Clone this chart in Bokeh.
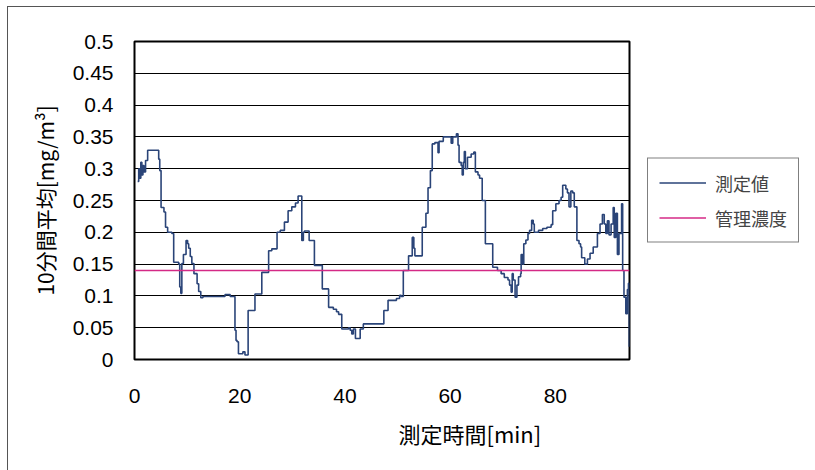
from bokeh.plotting import figure
from bokeh.models import (FixedTicker, CustomJSTickFormatter, Legend, LegendItem,
                          Title, Range1d, ColumnDataSource)
from bokeh.embed import file_html
from bokeh.resources import INLINE

# 10-minute moving average of the measured concentration (step change points)
times = [0.6, 0.8, 1.0, 1.2, 1.4, 1.6, 1.8, 2.1, 2.5, 4.6, 4.8, 5.05, 5.6, 5.9, 6.3,
         7.1, 7.45, 8.4, 8.6, 8.8, 9.0, 9.3, 9.8, 10.1, 10.3, 10.6, 10.9, 11.3, 11.9,
         12.2, 12.6, 13.0, 17.2, 18.2, 19.1, 19.3, 19.5, 19.76, 20.6, 21.0, 21.6, 22.9,
         24.2, 25.5, 26.1, 27.1, 27.7, 28.5, 29.2, 29.9, 30.6, 31.1, 31.8, 32.1, 32.3,
         33.2, 34.2, 35.7, 36.9, 37.8, 38.4, 38.8, 39.4, 40.7, 41.0, 41.3, 41.6, 42.0,
         42.9, 43.5, 47.4, 48.2, 49.8, 50.4, 50.7, 51.1, 52.1, 52.8, 53.1, 53.3, 54.7,
         55.4, 55.8, 56.25, 56.6, 57.1, 57.7, 57.9, 58.7, 60.2, 60.5, 61.2, 61.5, 61.7,
         62.1, 62.3, 62.5, 62.7, 62.9, 63.3, 64.0, 64.5, 64.8, 65.3, 65.6, 66.1, 66.7,
         68.1, 69.0, 69.7, 70.3, 71.0, 71.3, 71.6, 71.8, 72.0, 72.35, 72.7, 73.0, 73.4,
         73.5, 73.8, 74.0, 74.4, 74.8, 75.1, 75.5, 75.8, 76.0, 76.8, 77.6, 78.4, 79.2,
         79.5, 80.1, 80.7, 81.1, 81.4, 82.0, 82.3, 82.6, 82.95, 83.3, 83.6, 84.1, 84.5,
         84.8, 85.0, 85.6, 86.1, 86.6, 87.2, 88.0, 88.5, 88.95, 89.3, 89.6, 89.9, 90.2,
         90.6, 91.0, 91.2, 91.5, 91.8, 92.1, 92.6, 92.8, 93.05, 93.4, 93.7, 93.9, 94.05]
values = [0.28, 0.30, 0.285, 0.31, 0.29, 0.305, 0.295, 0.313, 0.329, 0.315, 0.297, 0.239,
          0.232, 0.208, 0.200, 0.198, 0.153, 0.150, 0.114, 0.104, 0.151, 0.165, 0.187,
          0.182, 0.175, 0.162, 0.151, 0.135, 0.119, 0.107, 0.097, 0.099, 0.102, 0.099,
          0.046, 0.030, 0.028, 0.009, 0.012, 0.007, 0.077, 0.103, 0.137, 0.171, 0.174,
          0.200, 0.203, 0.216, 0.234, 0.240, 0.246, 0.257, 0.187, 0.200, 0.202, 0.187,
          0.148, 0.111, 0.082, 0.079, 0.075, 0.071, 0.048, 0.050, 0.046, 0.040, 0.048,
          0.033, 0.048, 0.056, 0.077, 0.093, 0.096, 0.101, 0.099, 0.140, 0.163, 0.192,
          0.175, 0.163, 0.208, 0.230, 0.270, 0.297, 0.339, 0.341, 0.325, 0.343, 0.350,
          0.340, 0.350, 0.355, 0.337, 0.310, 0.305, 0.290, 0.310, 0.327, 0.300, 0.318,
          0.323, 0.326, 0.295, 0.290, 0.285, 0.250, 0.182, 0.145, 0.140, 0.135, 0.129,
          0.125, 0.117, 0.106, 0.135, 0.125, 0.098, 0.117, 0.130, 0.135, 0.165, 0.150,
          0.182, 0.188, 0.198, 0.203, 0.219, 0.213, 0.200, 0.203, 0.206, 0.208, 0.212,
          0.234, 0.245, 0.250, 0.255, 0.274, 0.268, 0.262, 0.240, 0.265, 0.262, 0.240,
          0.187, 0.182, 0.177, 0.160, 0.150, 0.158, 0.167, 0.177, 0.198, 0.213, 0.228,
          0.213, 0.198, 0.218, 0.196, 0.213, 0.239, 0.192, 0.230, 0.165, 0.198, 0.245,
          0.140, 0.098, 0.072, 0.110, 0.120, 0.020]

control_level = 0.14          # 管理濃度 [mg/m3]
x_start, x_end = 0.0, 94.1    # measurement span [min]
x_ticks = [0, 20, 40, 60, 80]
y_ticks = [0, 0.05, 0.1, 0.15, 0.2, 0.25, 0.3, 0.35, 0.4, 0.45, 0.5]

NAVY = "#2a4478"
PINK = "#d42a86"
JP_FONT = "Noto Sans CJK JP"
NUM_FONT = "Liberation Sans"

p = figure(frame_width=495, frame_height=318, output_backend="svg", toolbar_location=None,
           x_range=Range1d(x_start, x_end), y_range=Range1d(0, 0.5),
           min_border_left=126, min_border_right=0, min_border_top=34,
           min_border_bottom=111)
p.styles = {"margin-left": "7px", "margin-top": "6px",
            "border-left": "1px solid #555", "border-top": "1px solid #555"}

p.background_fill_color = "white"
p.border_fill_color = "white"
p.outline_line_color = "black"
p.outline_line_width = 2

src = ColumnDataSource(dict(t=times, v=values))
r_meas = p.step(x="t", y="v", source=src, mode="after", line_color=NAVY, line_width=1.6)
r_ctrl = p.line(x=[x_start, x_end], y=[control_level, control_level],
                line_color=PINK, line_width=1.6)

# axes
for ax in (p.xaxis[0], p.yaxis[0]):
    ax.axis_line_color = None
    ax.major_tick_line_color = None
    ax.minor_tick_line_color = None
    ax.major_tick_out = 0
    ax.major_tick_in = 0
    ax.major_label_text_font = NUM_FONT
    ax.major_label_text_font_size = "21px"
    ax.major_label_text_color = "black"

p.xaxis.ticker = FixedTicker(ticks=x_ticks)
p.xaxis.major_label_standoff = 29

p.yaxis.ticker = FixedTicker(ticks=y_ticks)
p.yaxis.formatter = CustomJSTickFormatter(code="return String(Math.round(tick * 100) / 100);")
p.yaxis.major_label_standoff = 21
p.yaxis.axis_label = "10分間平均[mg/m³]"
p.yaxis.axis_label_text_font = JP_FONT
p.yaxis.axis_label_text_font_size = "21px"
p.yaxis.axis_label_text_font_style = "normal"
p.yaxis.axis_label_text_color = "black"
p.yaxis.axis_label_standoff = 10

p.xgrid.visible = False
p.ygrid.grid_line_color = "black"
p.ygrid.grid_line_width = 1

# x-axis title, placed right of the frame centre
xt = Title(text="測定時間[min]", align="left", offset=264,
           text_font=JP_FONT, text_font_size="22px", text_font_style="normal",
           text_color="black", standoff=18)
p.add_layout(xt, "below")

legend = Legend(items=[LegendItem(label="測定値", renderers=[r_meas]),
                       LegendItem(label="管理濃度", renderers=[r_ctrl])],
                location="center_left", orientation="vertical",
                border_line_color="black", border_line_width=1,
                background_fill_color="white", background_fill_alpha=1.0,
                padding=11, spacing=9, margin=18,
                glyph_width=47, glyph_height=22, label_height=22, label_standoff=9,
                label_width=72,
                label_text_font=JP_FONT, label_text_font_size="18px")
p.add_layout(legend, "right")

open("out.html", "w").write(file_html(p, INLINE))
